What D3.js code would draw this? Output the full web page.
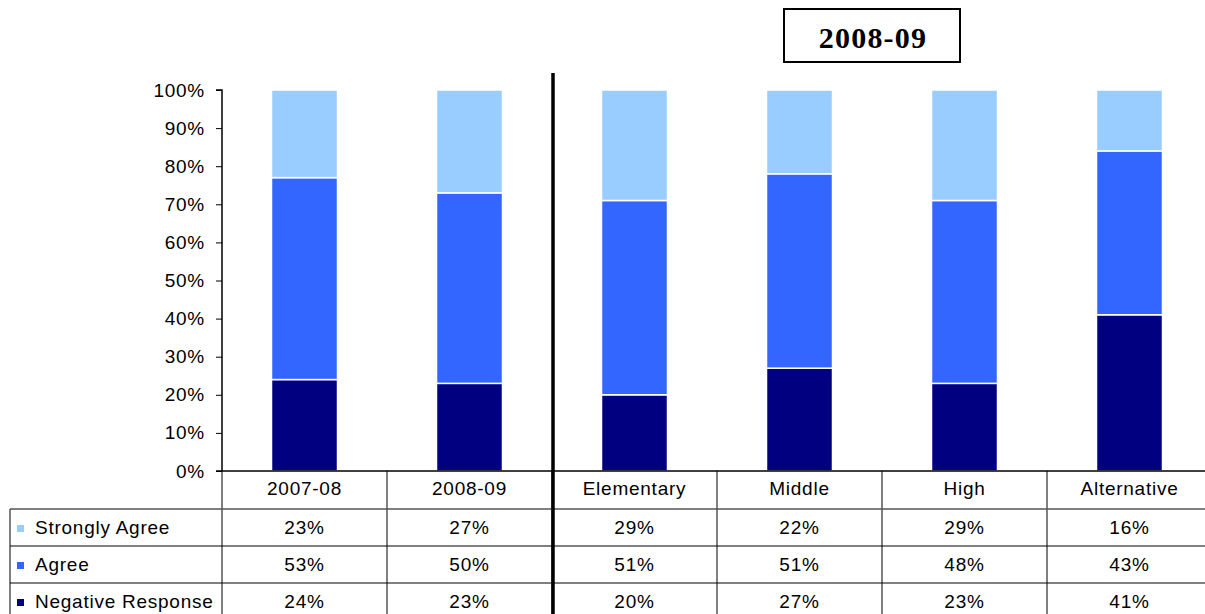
<!DOCTYPE html>
<html>
<head>
<meta charset="utf-8">
<script src="https://cdn.jsdelivr.net/npm/d3@7"></script>
<style>
  html, body { margin: 0; padding: 0; background: #fff; }
  svg { display: block; }
  text { font-family: "Liberation Sans", Arial, sans-serif; fill: #000; letter-spacing: 0.75px; }
</style>
</head>
<body>
<svg id="chart" width="1205" height="614"></svg>
<script>
// Survey response shares by year and by school level
const categories = ["2007-08", "2008-09", "Elementary", "Middle", "High", "Alternative"];
const seriesNames = ["Strongly Agree", "Agree", "Negative Response"];
const stronglyAgree = [23, 27, 29, 22, 29, 16];
const agree = [53, 50, 51, 51, 48, 43];
const negative = [24, 23, 20, 27, 23, 41];
const seriesColors = ["#99CCFF", "#3366FF", "#000080"];
const yTicks = [0, 10, 20, 30, 40, 50, 60, 70, 80, 90, 100];
const panelTitle = "2008-09";

const svg = d3.select("#chart");

const plotLeft = 222, plotRight = 1212, plotTop = 90, plotBase = 471;
const tableLeft = 10, headerBottom = 509, rowH = 37;

const cols = d3.scaleBand().domain(categories).range([plotLeft, plotRight]).padding(0);
const xBar = d3.scaleBand().domain(categories).range([plotLeft, plotRight])
  .paddingInner(0.6).paddingOuter(0.3);
const y = d3.scaleLinear().domain([0, 100]).range([plotBase, plotTop]);

// stacked layout: negative at the bottom, strongly agree on top
const rows = categories.map((c, i) => ({
  cat: c,
  "Negative Response": negative[i],
  "Agree": agree[i],
  "Strongly Agree": stronglyAgree[i]
}));
const stackOrder = ["Negative Response", "Agree", "Strongly Agree"];
const stacked = d3.stack().keys(stackOrder)(rows);
const color = d3.scaleOrdinal().domain(seriesNames).range(seriesColors);

svg.append("g").selectAll("g")
  .data(stacked)
  .join("g")
  .attr("fill", d => color(d.key))
  .selectAll("rect")
  .data(d => d)
  .join("rect")
  .attr("x", d => xBar(d.data.cat))
  .attr("width", xBar.bandwidth())
  .attr("y", d => y(d[1]))
  .attr("height", d => y(d[0]) - y(d[1]))
  .attr("stroke", "#fff")
  .attr("stroke-width", 1.5);

// y axis
const yAxis = d3.axisLeft(y).tickValues(yTicks).tickSize(6).tickPadding(11)
  .tickFormat(d => d + "%");
const ya = svg.append("g").attr("transform", `translate(${plotLeft},0)`).call(yAxis);
ya.select(".domain").attr("stroke", "#000").attr("stroke-width", 1.5)
  .attr("d", `M-6,${plotTop}H0V${plotBase}`);
ya.selectAll(".tick line").attr("stroke", "#000");
ya.selectAll(".tick text").style("font-size", "19px")
  .style("font-family", '"Liberation Sans", Arial, sans-serif').attr("fill", "#000");

// category axis forms the top of the data table
svg.append("line").attr("x1", plotLeft - 6).attr("x2", plotRight).attr("y1", plotBase).attr("y2", plotBase)
  .attr("stroke", "#000").attr("stroke-width", 1.5);

// data table
const tableBottom = headerBottom + rowH * 3;
const g = svg.append("g");
categories.forEach(c => {
  g.append("line")
    .attr("x1", cols(c) + cols.bandwidth()).attr("x2", cols(c) + cols.bandwidth())
    .attr("y1", plotBase).attr("y2", tableBottom)
    .attr("stroke", "#000").attr("stroke-width", 1);
  g.append("text").attr("x", cols(c) + cols.bandwidth() / 2).attr("y", 490)
    .attr("text-anchor", "middle").attr("dominant-baseline", "middle")
    .style("font-size", "19px").text(c);
});
g.append("line").attr("x1", plotLeft).attr("x2", plotLeft).attr("y1", plotBase).attr("y2", tableBottom)
  .attr("stroke", "#000").attr("stroke-width", 1);
g.append("line").attr("x1", tableLeft).attr("x2", tableLeft).attr("y1", headerBottom).attr("y2", tableBottom)
  .attr("stroke", "#000").attr("stroke-width", 1);
[0, 1, 2].forEach(r => {
  g.append("line").attr("x1", tableLeft).attr("x2", plotRight)
    .attr("y1", headerBottom + r * rowH).attr("y2", headerBottom + r * rowH)
    .attr("stroke", r === 0 ? "#555" : "#000").attr("stroke-width", r === 0 ? 1.5 : 1);
});

const tableSeries = [
  { name: "Strongly Agree", values: stronglyAgree },
  { name: "Agree", values: agree },
  { name: "Negative Response", values: negative }
];
tableSeries.forEach((s, r) => {
  const cy = headerBottom + r * rowH + rowH / 2 + 1;
  g.append("rect").attr("x", 17).attr("y", cy - 3.5).attr("width", 7).attr("height", 7)
    .attr("fill", color(s.name));
  g.append("text").attr("x", 35).attr("y", cy).attr("dominant-baseline", "middle")
    .style("font-size", "19px").text(s.name);
  s.values.forEach((v, i) => {
    g.append("text").attr("x", cols(categories[i]) + cols.bandwidth() / 2).attr("y", cy)
      .attr("text-anchor", "middle").attr("dominant-baseline", "middle")
      .style("font-size", "19px").text(v + "%");
  });
});

// divider between the yearly totals and the school-level breakdown
const divX = cols(categories[2]) + 1;
svg.append("line").attr("x1", divX).attr("x2", divX).attr("y1", 73).attr("y2", 614)
  .attr("stroke", "#000").attr("stroke-width", 3.5);

// panel title box
svg.append("rect").attr("x", 784).attr("y", 9).attr("width", 176).attr("height", 53)
  .attr("fill", "#fff").attr("stroke", "#000").attr("stroke-width", 2);
svg.append("text").attr("x", 873).attr("y", 48).attr("text-anchor", "middle")
  .style("font-family", '"Liberation Serif", "Times New Roman", serif')
  .style("letter-spacing", "1.2px")
  .style("font-weight", "bold").style("font-size", "30px").text(panelTitle);
</script>
</body>
</html>
